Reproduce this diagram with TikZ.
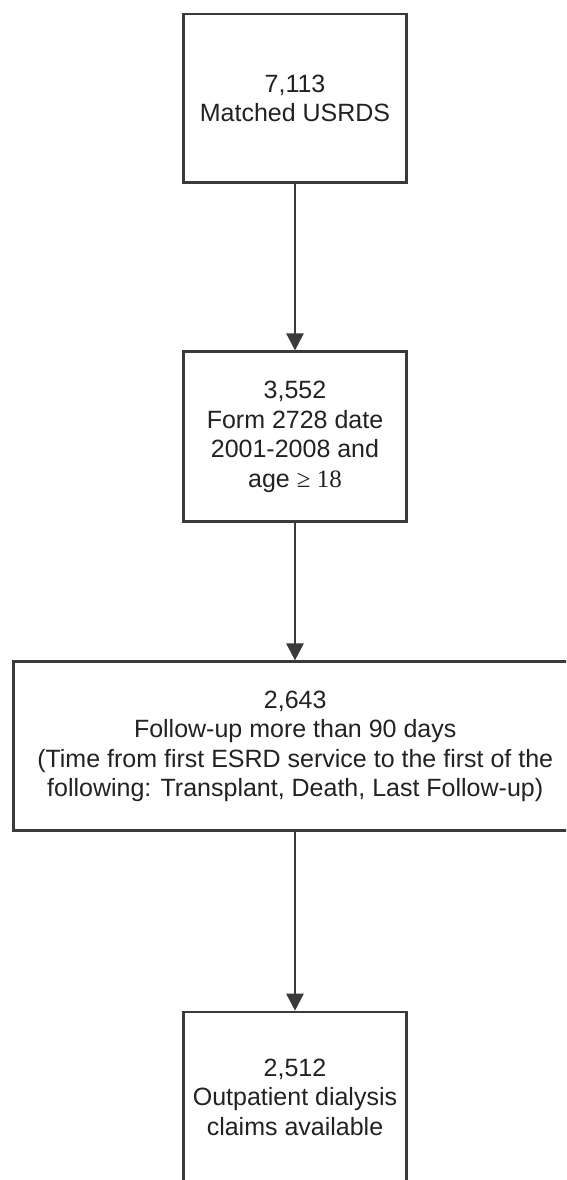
\documentclass[tikz,border=0pt]{standalone}
\usepackage{fontspec}
\setmainfont{Liberation Sans}
\newfontfamily\serifpart{Liberation Serif}
\usetikzlibrary{arrows.meta}
\definecolor{linegray}{HTML}{3A3A3A}
\definecolor{textgray}{HTML}{222222}
\begin{document}
\begin{tikzpicture}[x=1pt,y=-1pt,
  flowbox/.style={draw=linegray, line width=2.6pt, rectangle, inner sep=0pt,
    align=center, text=textgray, font=\fontsize{25}{29.5}\selectfont},
  flowarrow/.style={draw=linegray, line width=2.6pt,
    -{Triangle[length=17pt,width=17pt]}}]
\clip (0,0) rectangle (566,1180);
\fill[white] (0,0) rectangle (566,1180);
\node[flowbox, minimum width=223.4pt, minimum height=168.7pt] (b1) at (295,98.4)
  {7,113\\Matched USRDS};
\node[flowbox, minimum width=223.4pt, minimum height=170pt] (b2) at (295,436.7)
  {3,552\\Form 2728 date\\2001-2008 and\\age {\serifpart ≥ 18}};
\node[flowbox, minimum width=563.8pt, minimum height=169pt] (b3) at (295.2,746.2)
  {2,643\\Follow-up more than 90 days\\(Time from first ESRD service to the first of the\\following: Transplant, Death, Last Follow-up)};
\node[flowbox, minimum width=223.4pt, minimum height=170pt] (b4) at (295,1097)
  {2,512\\Outpatient dialysis\\claims available};
\draw[flowarrow] (b1.south) -- (b2.north);
\draw[flowarrow] (b2.south) -- (b3.north -| b2.south);
\draw[flowarrow] (b3.south -| b4.north) -- (b4.north);
\end{tikzpicture}
\end{document}
